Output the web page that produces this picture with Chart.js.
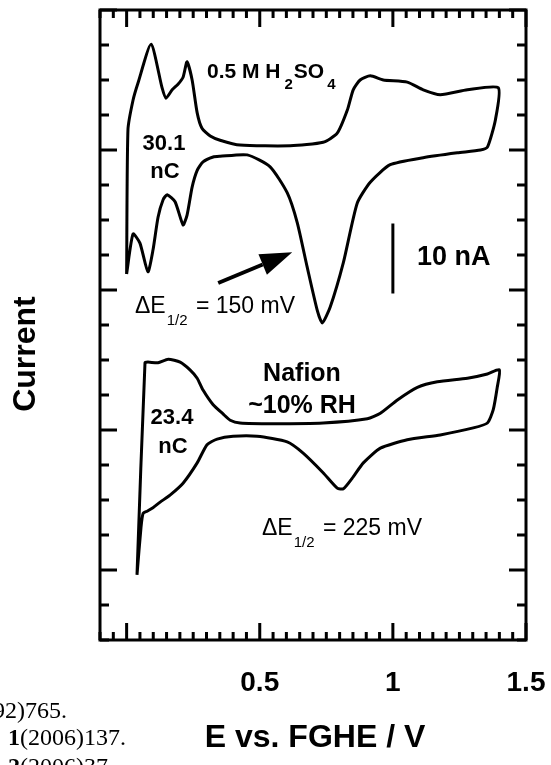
<!DOCTYPE html>
<html>
<head>
<meta charset="utf-8">
<script src="https://cdn.jsdelivr.net/npm/chart.js@4.4.0/dist/chart.umd.min.js"></script>
<style>
  body { margin: 0; background: #fff; }
  #wrap { width: 551px; height: 765px; }
</style>
</head>
<body>
<div id="wrap"><canvas id="cv" width="551" height="765"></canvas></div>
<script>
// potential (V vs FGHE) and current (nA, curves offset) for both CVs
const acidE = [0.000, 0.024, 0.050, 0.080, 0.099, 0.118, 0.137, 0.152, 0.182, 0.212, 0.227, 0.246, 0.265, 0.287, 0.325, 0.351,
  0.453, 0.539, 0.603, 0.641, 0.678, 0.716, 0.735, 0.765, 0.814, 0.866, 0.915, 0.990, 1.114, 1.242, 1.329, 1.355, 1.385, 1.396,
  1.280, 1.178, 1.114, 1.054, 0.964, 0.915, 0.877, 0.851, 0.829, 0.791, 0.738, 0.614, 0.426, 0.351, 0.314, 0.283, 0.265,
  0.246, 0.227, 0.212, 0.193, 0.171, 0.148, 0.133, 0.092, 0.043, 0.024, 0.005, 0.000];
const acidI = [52.3, 58.0, 56.7, 52.6, 55.7, 60.4, 62.9, 63.6, 62.6, 59.3, 60.7, 64.7, 67.1, 68.3, 69.0, 69.1,
  69.3, 67.6, 63.9, 59.6, 53.3, 47.1, 45.3, 47.6, 53.9, 62.4, 65.4, 67.9, 68.9, 69.6, 70.0, 70.4, 74.3, 78.9,
  78.6, 77.9, 78.6, 79.7, 80.0, 80.6, 80.0, 78.6, 75.7, 72.4, 71.1, 70.6, 70.7, 71.4, 72.0, 73.1, 75.3,
  80.0, 82.6, 80.4, 79.4, 78.6, 77.4, 78.9, 85.1, 79.6, 77.1, 72.9, 52.3];

const nafionE = [0.039, 0.069, 0.080, 0.118, 0.156, 0.201, 0.238, 0.265, 0.287, 0.325, 0.362, 0.389, 0.426, 0.550, 0.738,
  0.904, 0.953, 1.017, 1.092, 1.167, 1.280, 1.355, 1.400, 1.392, 1.377, 1.355, 1.302, 1.178, 1.054, 0.953, 0.889, 0.851,
  0.814, 0.791, 0.738, 0.663, 0.603, 0.490, 0.400, 0.340, 0.302, 0.265, 0.212, 0.163, 0.126, 0.099, 0.077, 0.062, 0.054, 0.039];
const nafionI = [9.3, 39.6, 39.7, 39.6, 40.1, 39.7, 38.6, 37.4, 35.7, 33.6, 32.3, 31.4, 31.0, 30.9, 31.0,
  31.6, 32.4, 34.3, 36.1, 36.9, 37.4, 38.0, 38.6, 36.1, 32.9, 31.0, 30.3, 29.3, 28.6, 27.4, 25.3, 23.3,
  21.6, 21.7, 23.9, 26.7, 28.3, 29.1, 29.1, 28.7, 27.9, 25.3, 22.4, 20.7, 19.7, 18.9, 18.4, 18.1, 16.1, 9.3];

// 10 nA scale bar and the arrow pointing at the reduction peak
const scaleBarE = [1.0, 1.0];
const scaleBarI = [49.5, 59.5];
const arrowE = [0.344, 0.622];
const arrowI = [51.0, 55.4];

const xLabelValues = [0.5, 1, 1.5];
const xLabels = ['0.5', '1', '1.5'];

const pts = (xs, ys) => xs.map((v, i) => ({ x: v, y: ys[i] }));
const SANS = '"Liberation Sans", Arial, sans-serif';
const SERIF = '"Liberation Serif", "Times New Roman", serif';

// draw a row of text pieces (for subscripts), left aligned on a baseline
function runs(ctx, parts, x, y) {
  let cx = x;
  for (const p of parts) {
    ctx.font = p.f;
    cx += p.pre || 0;
    ctx.fillText(p.t, cx, y + (p.dy || 0));
    cx += ctx.measureText(p.t).width + (p.post || 0);
  }
}

const decor = {
  id: 'decor',
  afterDatasetsDraw(chart) {
    const { ctx, chartArea: a, scales: { x, y } } = chart;
    ctx.save();
    ctx.strokeStyle = '#000';
    ctx.fillStyle = '#000';
    ctx.lineWidth = 3;
    ctx.strokeRect(a.left, a.top, a.right - a.left, a.bottom - a.top);

    // inward ticks on all four sides
    ctx.beginPath();
    for (let k = -2; k <= 30; k++) {
      const px = x.getPixelForValue(k * 0.05);
      const len = k % 10 === 0 ? 17 : 8;
      ctx.moveTo(px, a.bottom); ctx.lineTo(px, a.bottom - len);
      ctx.moveTo(px, a.top); ctx.lineTo(px, a.top + len);
    }
    for (let k = 0; k <= 18; k++) {
      const v = k * 5;
      const py = y.getPixelForValue(v);
      const len = (v - 10) % 20 === 0 ? 17 : 9;
      ctx.moveTo(a.left, py); ctx.lineTo(a.left + len, py);
      ctx.moveTo(a.right, py); ctx.lineTo(a.right - len, py);
    }
    ctx.stroke();

    // arrow
    const x0 = x.getPixelForValue(arrowE[0]), y0 = y.getPixelForValue(arrowI[0]);
    const x1 = x.getPixelForValue(arrowE[1]), y1 = y.getPixelForValue(arrowI[1]);
    const ang = Math.atan2(y1 - y0, x1 - x0);
    const hl = 32, hw = 11;
    const bx = x1 - hl * Math.cos(ang), by = y1 - hl * Math.sin(ang);
    ctx.lineWidth = 4;
    ctx.beginPath();
    ctx.moveTo(x0, y0); ctx.lineTo(bx, by);
    ctx.stroke();
    ctx.beginPath();
    ctx.moveTo(x1, y1);
    ctx.lineTo(bx + hw * Math.sin(ang), by - hw * Math.cos(ang));
    ctx.lineTo(bx - hw * Math.sin(ang), by + hw * Math.cos(ang));
    ctx.closePath();
    ctx.fill();

    // labels inside the plot
    ctx.textBaseline = 'alphabetic';
    ctx.textAlign = 'left';
    const b21 = 'bold 21px ' + SANS, b15 = 'bold 15px ' + SANS;
    runs(ctx, [
      { t: '0.5 M H', f: b21 },
      { t: '2', f: b15, dy: 11, pre: 4, post: 1 },
      { t: 'SO', f: b21 },
      { t: '4', f: b15, dy: 11, pre: 3 }
    ], 207, 78);

    const r23 = '23px ' + SANS, r15 = '15px ' + SANS;
    runs(ctx, [
      { t: '\u0394E', f: r23 },
      { t: '1/2', f: r15, dy: 12, pre: 1, post: 2 },
      { t: ' = 150 mV', f: r23 }
    ], 135, 313);
    runs(ctx, [
      { t: '\u0394E', f: r23 },
      { t: '1/2', f: r15, dy: 12, pre: 1, post: 2 },
      { t: ' = 225 mV', f: r23 }
    ], 262, 535);

    ctx.textAlign = 'center';
    ctx.textBaseline = 'middle';
    ctx.font = 'bold 22px ' + SANS;
    ctx.fillText('30.1', 164, 144);
    ctx.fillText('nC', 165, 172);
    ctx.fillText('23.4', 172, 418);
    ctx.fillText('nC', 173, 447);
    ctx.font = 'bold 25px ' + SANS;
    ctx.fillText('Nafion', 302, 374);
    ctx.fillText('~10% RH', 302, 406);
    ctx.textAlign = 'left';
    ctx.font = 'bold 27px ' + SANS;
    ctx.fillText('10 nA', 417, 258);

    // axis labels
    ctx.textAlign = 'center';
    ctx.font = 'bold 28px ' + SANS;
    xLabelValues.forEach((v, i) => ctx.fillText(xLabels[i], x.getPixelForValue(v), 683));
    ctx.font = 'bold 32px ' + SANS;
    ctx.fillText('E vs. FGHE / V', 315, 738);
    ctx.save();
    ctx.translate(26, 354);
    ctx.rotate(-Math.PI / 2);
    ctx.fillText('Current', 0, 0);
    ctx.restore();

    // reference lines running in from the left margin
    ctx.textAlign = 'left';
    ctx.textBaseline = 'alphabetic';
    ctx.font = '24px ' + SERIF;
    ctx.fillText('92)765.', -7, 718);
    runs(ctx, [
      { t: '1', f: 'bold 24px ' + SERIF },
      { t: '(2006)137.', f: '24px ' + SERIF }
    ], 8, 745);
    runs(ctx, [
      { t: '2', f: 'bold 24px ' + SERIF },
      { t: '(2006)37.', f: '24px ' + SERIF }
    ], 8, 774);
    ctx.restore();
  }
};

const line = (data, w) => ({
  data, showLine: true, borderColor: '#000', borderWidth: w,
  pointRadius: 0, tension: 0.2, fill: false
});

new Chart(document.getElementById('cv'), {
  type: 'scatter',
  data: {
    datasets: [
      line(pts(acidE, acidI), 3),
      line(pts(nafionE, nafionI), 3),
      { ...line(pts(scaleBarE, scaleBarI), 3), tension: 0 }
    ]
  },
  options: {
    responsive: false,
    animation: false,
    layout: { padding: { left: 100, right: 25, top: 10, bottom: 125 } },
    plugins: { legend: { display: false }, tooltip: { enabled: false } },
    scales: {
      x: { type: 'linear', min: -0.1, max: 1.5, display: false },
      y: { type: 'linear', min: 0, max: 90, display: false }
    }
  },
  plugins: [decor]
});
</script>
</body>
</html>
